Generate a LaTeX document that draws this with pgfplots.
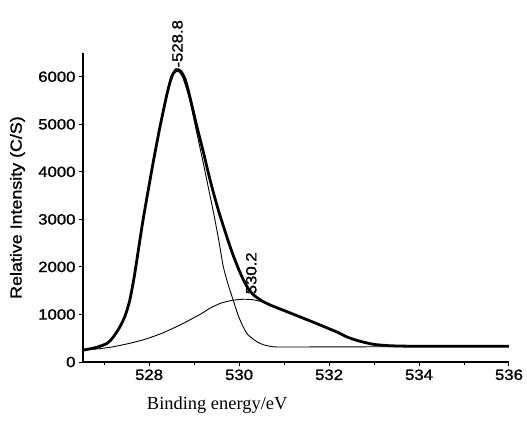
\documentclass[border=0pt]{standalone}
\usepackage{fontspec}
\setmainfont{Liberation Serif}
\newfontfamily\arialw{Liberation Sans}[FakeStretch=1.12, FakeBold=1.2]
\usepackage{pgfplots}
\pgfplotsset{compat=1.18}

\begin{document}
\begin{tikzpicture}
\begin{axis}[name=ax,
  width=426bp, height=309bp, scale only axis,
  xmin=526.53, xmax=536, ymin=0, ymax=6500,
  axis x line=bottom, axis y line=left,
  axis line style={-, line width=1.2pt},
  xtick={528,530,...,536}, minor xtick={527,529,...,535},
  ytick={0,1000,...,6000},
  tick align=outside, major tick length=4bp, minor tick length=2.5bp,
  tick style={black, line width=1pt},
  tick label style={font=\arialw\fontsize{15}{15}\selectfont},
  /pgf/number format/assume math mode=true,
  /pgf/number format/1000 sep={},
  ylabel={Relative Intensity (C/S)},
  ylabel style={font=\arialw\fontsize{16}{16}\selectfont, at={(axis description cs:-0.128,0.5)}},
  xlabel={Binding energy/eV},
  xlabel style={font=\fontsize{18.5}{18.5}\selectfont, at={(axis description cs:0.315,-0.14)}, anchor=center},
  clip=false]
% component 2 (broad, 530.2)
\addplot[black, line width=0.9pt, smooth, tension=0.4] coordinates {
  (526.53,250) (526.9,280) (527.2,320) (527.6,400) (527.95,490) (528.3,610)
  (528.69,780) (529.13,1000) (529.35,1130) (529.6,1240) (529.87,1300) (530.1,1320)
  (530.3,1310) (530.5,1270) (530.7,1190) (530.98,1090) (531.3,970) (531.72,810)
  (532,700) (532.39,530) (532.8,410) (533.3,345) (534,330) (536,330)};
% component 1 (main, 528.8)
\addplot[black, line width=0.9pt, smooth, tension=0.4] coordinates {
  (526.53,250) (526.8,290) (527.06,375) (527.35,720) (527.57,1280) (527.76,2330)
  (527.94,3380) (528.1,4230) (528.24,4910) (528.4,5630) (528.55,6060) (528.65,6110)
  (528.75,5980) (528.9,5520) (529.06,4820) (529.2,4200) (529.31,3700) (529.43,3150)
  (529.55,2550) (529.65,2000) (529.76,1620) (529.87,1300) (529.98,980) (530.09,740)
  (530.2,570) (530.39,430) (530.55,360) (530.76,320) (531,315) (532,318) (534,322) (536,325)};
% envelope
\addplot[black, line width=2.8pt, smooth, tension=0.4] coordinates {
  (526.53,250) (526.8,300) (527.06,390) (527.2,520) (527.35,740) (527.47,980)
  (527.57,1300) (527.67,1800) (527.76,2350) (527.85,2900) (527.94,3400) (528.1,4250)
  (528.24,4940) (528.4,5650) (528.5,6000) (528.6,6150) (528.7,6120) (528.8,5950)
  (528.9,5600) (529.06,4960) (529.2,4440) (529.31,4000) (529.43,3560) (529.55,3160)
  (529.65,2860) (529.76,2540) (529.87,2240) (530,1930) (530.1,1720) (530.2,1550)
  (530.31,1420) (530.5,1290) (530.7,1195) (530.98,1090) (531.3,970) (531.72,810)
  (532,700) (532.2,620) (532.39,530) (532.6,460) (532.8,410) (533,370) (533.3,345)
  (533.6,335) (534,332) (535,330) (536,330)};
\node[rotate=90, anchor=west, inner sep=1pt, font=\arialw\fontsize{15}{15}\selectfont]
  at (axis cs:528.63,6170) {-528.8};
\node[rotate=90, anchor=west, inner sep=1pt, font=\arialw\fontsize{15}{15}\selectfont]
  at (axis cs:530.27,1400) {530.2};
\end{axis}
\pgfresetboundingbox
\path[use as bounding box] ([shift={(-83bp,-61bp)}]ax.south west) rectangle ([shift={(444bp,362bp)}]ax.south west);
\end{tikzpicture}
\end{document}
